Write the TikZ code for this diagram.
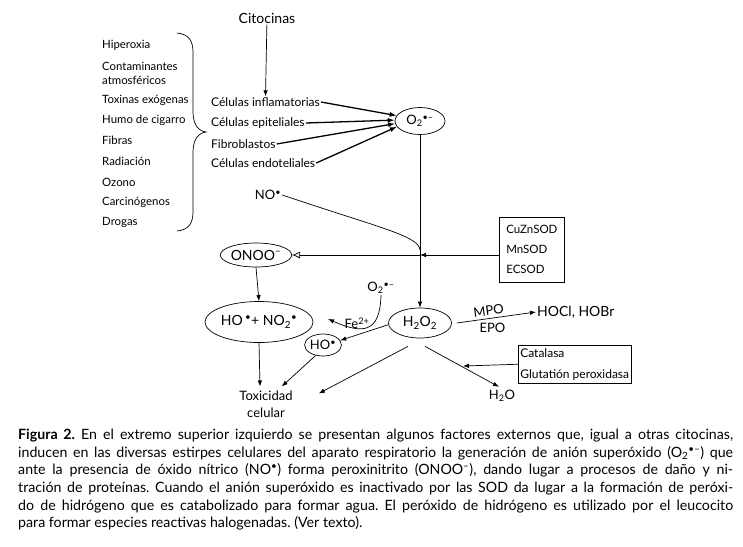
\documentclass[tikz,border=0pt]{standalone}
\usepackage{fontspec}
\setmainfont{Lato}
\usetikzlibrary{arrows.meta,shapes.geometric,calc}
\newcommand{\sbt}[1]{\textsubscript{#1}}
\newcommand{\spt}[1]{\textsuperscript{#1}}
\newcommand{\rad}{\spt{\textbullet}}
\newcommand{\radm}{\spt{\textbullet–}}
\begin{document}
\begin{tikzpicture}[x=1pt,y=-1pt,
  lst/.style={anchor=west,inner sep=0pt,font=\fontsize{11.4}{13}\selectfont},
  cell/.style={anchor=west,inner sep=1pt,font=\fontsize{12}{14}\selectfont},
  ell/.style={draw,ellipse,inner sep=0pt,line width=0.7pt},
  arr/.style={-{Latex[length=6pt,width=4.5pt]},line width=0.7pt},
  tarr/.style={-{Latex[length=7pt,width=5pt]},line width=1.3pt},
  oarr/.style={-{Latex[open,length=8pt,width=7pt]},line width=0.7pt},
  boxed/.style={draw,line width=0.6pt,align=left,anchor=north west}]
\fill[white] (0,0) rectangle (743,546);
\useasboundingbox (0,0) rectangle (743,546);

% top
\node[font=\fontsize{14}{16}\selectfont,inner sep=1pt] (cit) at (267,18) {Citocinas};

% left list
\node[lst] (l1) at (102,45) {Hiperoxia};
\node[lst] (l2) at (102,66) {Contaminantes};
\node[lst] (l3) at (102,80) {atmosféricos};
\node[lst] (l4) at (102,100) {Toxinas exógenas};
\node[lst] (l5) at (102,120) {Humo de cigarro};
\node[lst] (l6) at (102,140) {Fibras};
\node[lst] (l7) at (102,161) {Radiación};
\node[lst] (l8) at (102,182) {Ozono};
\node[lst] (l9) at (102,202) {Carcinógenos};
\node[lst] (l10) at (102,222) {Drogas};
\draw[line width=0.7pt] (177,33) .. controls (188,34) and (193,40) .. (193,52)
  -- (193,112) .. controls (193,124) and (198,131) .. (206,132)
  .. controls (198,133) and (193,140) .. (193,152)
  -- (193,212) .. controls (193,224) and (188,230) .. (177,231);

% cells
\node[cell] (inf) at (210,102) {Células inflamatorias};
\node[cell] (epi) at (210,123) {Células epiteliales};
\node[cell] (fib) at (210,144) {Fibroblastos};
\node[cell] (end) at (210,163) {Células endoteliales};

\node[ell,minimum width=50,minimum height=27,font=\fontsize{13}{14}\selectfont] (o2) at (420,121) {O\sbt{2}\radm};

\draw[arr] (cit) -- (inf.north);
\draw[tarr] (inf.east) -- (o2.167);
\draw[tarr] (epi.east) -- (o2.178);
\draw[tarr] (fib.east) -- (o2.186);
\draw[tarr] (end.east) -- (o2.194);

% NO and junction
\node[font=\fontsize{13}{14}\selectfont,inner sep=1pt] (no) at (268,195) {NO\rad};
\coordinate (j) at (420,255);

\node[boxed,font=\fontsize{11.5}{20}\selectfont,inner xsep=7pt,inner ysep=4pt,minimum height=65] (sod) at (499,217) {CuZnSOD\\MnSOD\\ECSOD};

\node[ell,minimum width=63,minimum height=24,font=\fontsize{14}{16}\selectfont] (onoo) at (256,255) {ONOO\spt{–}};
\node[ell,minimum width=92,minimum height=41,font=\fontsize{14}{16}\selectfont] (hono) at (259,322) {HO\,\rad+ NO\sbt{2}\rad};
\node[ell,minimum width=63,minimum height=30,font=\fontsize{14}{16}\selectfont] (h2o2) at (420,323) {H\sbt{2}O\sbt{2}};
\node[ell,minimum width=36,minimum height=22,font=\fontsize{13}{14}\selectfont] (ho) at (323,345) {HO\rad};

\node[font=\fontsize{13}{17}\selectfont,align=center,inner sep=1pt] (tox) at (266,404) {Toxicidad\\celular};
\node[font=\fontsize{13}{14}\selectfont,inner sep=1pt] (o2b) at (381,288) {O\sbt{2}\radm};
\node[font=\fontsize{13}{14}\selectfont,inner sep=0pt] (fe) at (357,323) {Fe\spt{2+}};
\coordinate (fetip) at (328,319);
\node[font=\fontsize{14}{16}\selectfont,anchor=west,inner sep=1pt] (hocl) at (536,312) {HOCl, HOBr};
\node[font=\fontsize{13}{14}\selectfont,inner sep=1pt] (h2o) at (502,396) {H\sbt{2}O};

\node[boxed,font=\fontsize{12}{21}\selectfont,inner xsep=2pt,inner ysep=3pt] (cat) at (518,345) {Catalasa\\Glutatión peroxidasa};
\coordinate (k) at (463,366);

% connectors
\draw[arr] (o2.south) -- (h2o2.north);
\draw[line width=0.7pt] (no.east) .. controls (380,228) and (419,236) .. (420,250);
\draw[arr] (sod.west |- j) -- (j);
\draw[oarr] (j) -- (onoo.east);
\draw[arr] (onoo.south) -- (hono.north);
\draw[arr] (hono.south) -- ($(tox.north)+(-6,-3)$);
\draw[arr] (h2o2.183) -- (ho.15);
\draw[arr] (o2b.south) .. controls (380,334) and (362,334) .. (fetip);
\draw[arr] (ho.-125) -- ($(tox.north east)+(-12,-3)$);
\draw[arr] ($(h2o2.south)+(-12,8)$) -- ($(tox.north east)+(25,4)$);
\draw[arr] ($(h2o2.south)+(5,8)$) -- ($(h2o.north)+(-3,-2)$);
\draw[arr] (cat.west) -- (k);
\draw[arr] ($(h2o2.east)+(5,0)$) -- node[pos=0.4,yshift=8pt,rotate=7,inner sep=0pt,font=\fontsize{13}{14}\selectfont] {MPO}
  node[pos=0.45,yshift=-10pt,inner sep=0pt,font=\fontsize{13}{14}\selectfont] {EPO} (hocl.west);

% caption
\node[anchor=north west,inner sep=0pt,text width=715pt,align=justify,
  font=\fontsize{14.2}{17.6}\selectfont] (cap) at (18,429)
{\frenchspacing\hyphenpenalty=10000\tolerance=9999\textbf{Figura 2.} En el extremo superior izquierdo se presentan algunos factores externos que, igual a otras citocinas,\linebreak
inducen en las diversas estirpes celulares del aparato respiratorio la generación de anión superóxido (O\sbt{2}\radm) que\linebreak
ante la presencia de óxido nítrico (NO\rad) forma peroxinitrito (ONOO\spt{–}), dando lugar a procesos de daño y ni-\linebreak
tración de proteínas. Cuando el anión superóxido es inactivado por las SOD da lugar a la formación de peróxi-\linebreak
do de hidrógeno que es catabolizado para formar agua. El peróxido de hidrógeno es utilizado por el leucocito\linebreak
para formar especies reactivas halogenadas. (Ver texto).};
\end{tikzpicture}
\end{document}
